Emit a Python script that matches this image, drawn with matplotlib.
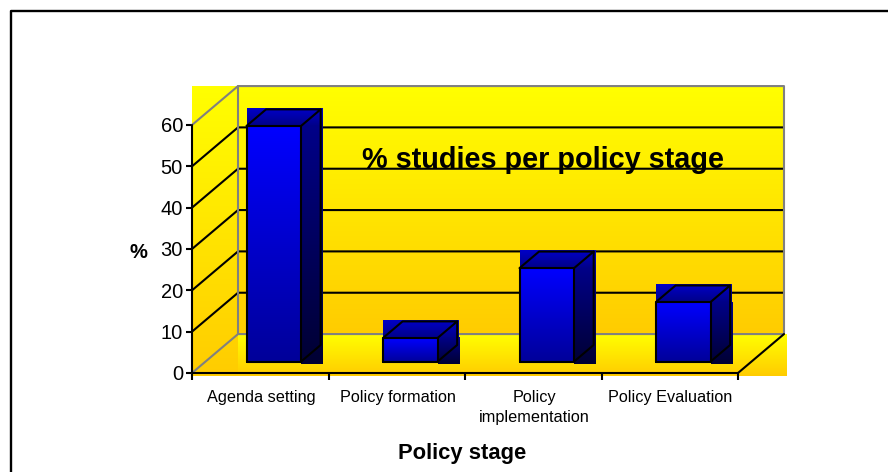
import numpy as np
import matplotlib
matplotlib.use("Agg")
import matplotlib.pyplot as plt
from matplotlib.colors import LinearSegmentedColormap
from matplotlib.lines import Line2D

plt.rcParams['font.family'] = ['Liberation Sans', 'DejaVu Sans']

stages = ["Agenda setting", "Policy formation", "Policy\nimplementation", "Policy Evaluation"]
percent = [57, 5.7, 22.6, 14.4]
y_ticks = [0, 10, 20, 30, 40, 50, 60]

# how far the 3D box recedes, in data units
DEPTH_X = 0.337
DEPTH_Y = 9.42
BAR_WIDTH = 0.40
BAR_FRONT = 0.295
BAR_BACK = 0.72

W, H = 888, 472


def proj(x, y, d=0.0):
    return x + d * DEPTH_X, y + d * DEPTH_Y


def gradient(ax, x0, x1, y0, y1, top, bottom, z):
    cmap = LinearSegmentedColormap.from_list("g", [top, bottom])
    img = np.linspace(0, 1, 128).reshape(-1, 1)
    ax.imshow(img, extent=(x0, x1, y0, y1), origin="upper", cmap=cmap,
              aspect="auto", zorder=z, clip_on=False, interpolation="bilinear")


def poly(ax, pts, z, color="black", lw=1.5):
    xs, ys = zip(*pts)
    ax.plot(xs, ys, color=color, lw=lw, zorder=z, clip_on=False, solid_capstyle="round")


def draw_bar(ax, i, value):
    x0 = i + 0.5 - BAR_WIDTH / 2
    x1 = i + 0.5 + BAR_WIDTH / 2
    fl, fb = proj(x0, 0, BAR_FRONT)
    fr, ft = proj(x1, value, BAR_FRONT)
    br, bt = proj(x1, value, BAR_BACK)
    bl, _ = proj(x0, value, BAR_BACK)
    _, bb = proj(x1, 0, BAR_BACK)
    edge_x = br + 0.012
    low = fb - 0.6

    gradient(ax, fl, fr, fb, ft, "#0000FF", "#000099", 5)
    gradient(ax, fl, edge_x, ft, bt + 0.2, "#0000C8", "#000088", 5)
    gradient(ax, fr, edge_x, low, ft, "#000088", "#000033", 5)

    poly(ax, [(fl, fb), (fl, ft), (fr, ft), (fr, fb), (fl, fb)], 6)
    poly(ax, [(fl, ft), (bl, bt), (br, bt), (fr, ft)], 6)
    poly(ax, [(br, bt), (br, bb), (fr, fb)], 6)


fig = plt.figure(figsize=(W / 100, H / 100), dpi=100, facecolor="white")
ax = fig.add_axes([192 / W, 1 - 373 / H, 546 / W, 248 / H])
ax.set_facecolor("none")
for s in ax.spines.values():
    s.set_visible(False)

yellow, orange = "#FFFF00", "#FFCC00"
top_y = proj(0, 60, 1)[1]
floor_y = proj(0, 0, 1)[1]
wall_x = proj(0, 0, 1)[0]
right_x = proj(4, 0, 1)[0]

# walls and floor
gradient(ax, 0, wall_x, -0.7, top_y, yellow, orange, 1)
gradient(ax, wall_x, right_x, floor_y, top_y, yellow, orange, 1)
gradient(ax, wall_x, right_x + 0.015, -0.7, floor_y, yellow, orange, 1)

# gridlines on the side and back walls
for t in y_ticks[1:-1]:
    poly(ax, [proj(0, t), proj(0, t, 1), proj(4, t, 1)], 3)
grey = "#808080"
poly(ax, [proj(0, 60), proj(0, 60, 1), proj(4, 60, 1), proj(4, 0, 1), proj(0, 0, 1), proj(0, 0)], 3, color=grey)
poly(ax, [proj(0, 60, 1), proj(0, 0, 1)], 3, color=grey)
poly(ax, [proj(4, 0), proj(4, 0, 1)], 3)

for i, v in enumerate(percent):
    draw_bar(ax, i, v)

# axes drawn by hand over the fills
poly(ax, [(0, 60), (0, 0), (4, 0)], 7)

ax.set_xlim(0, 4)
ax.set_ylim(0, 60)
ax.set_yticks(y_ticks)
ax.set_xticks([0, 1, 2, 3, 4])
ax.set_xticklabels([])
ax.tick_params(axis="y", length=4.5, width=1.5, labelsize=14.5, pad=2, color="black")
ax.tick_params(axis="x", length=5, width=1.5, color="black")
for t in ax.yaxis.get_major_ticks() + ax.xaxis.get_major_ticks():
    t.tick1line.set_zorder(8)
ax.set_axisbelow(False)

for i, label in enumerate(stages):
    ax.annotate(label, xy=(i + 0.5, 0), xycoords="data", xytext=(0.5, -12), textcoords="offset points",
                ha="center", va="top", fontsize=11.7, linespacing=1.45, annotation_clip=False)

fig.text(462.5 / W, 1 - 453 / H, "Policy stage", ha="center", va="center", fontsize=15.8, fontweight="bold")
fig.text(138 / W, 1 - 252 / H, "%", ha="center", va="center", fontsize=14.5, fontweight="bold")
ax.text((543 - 192) / 136.5, (373 - 160) / 4.133, "% studies per policy stage",
        ha="center", va="center", fontsize=20.8, fontweight="bold", zorder=9)

# outer frame, open along the bottom and right
fig.add_artist(Line2D([10.5 / W, 10.5 / W, 1],
                      [0, 1 - 11 / H, 1 - 11 / H], color="black", lw=1.7))

fig.savefig("out.png", dpi=100, facecolor="white")
